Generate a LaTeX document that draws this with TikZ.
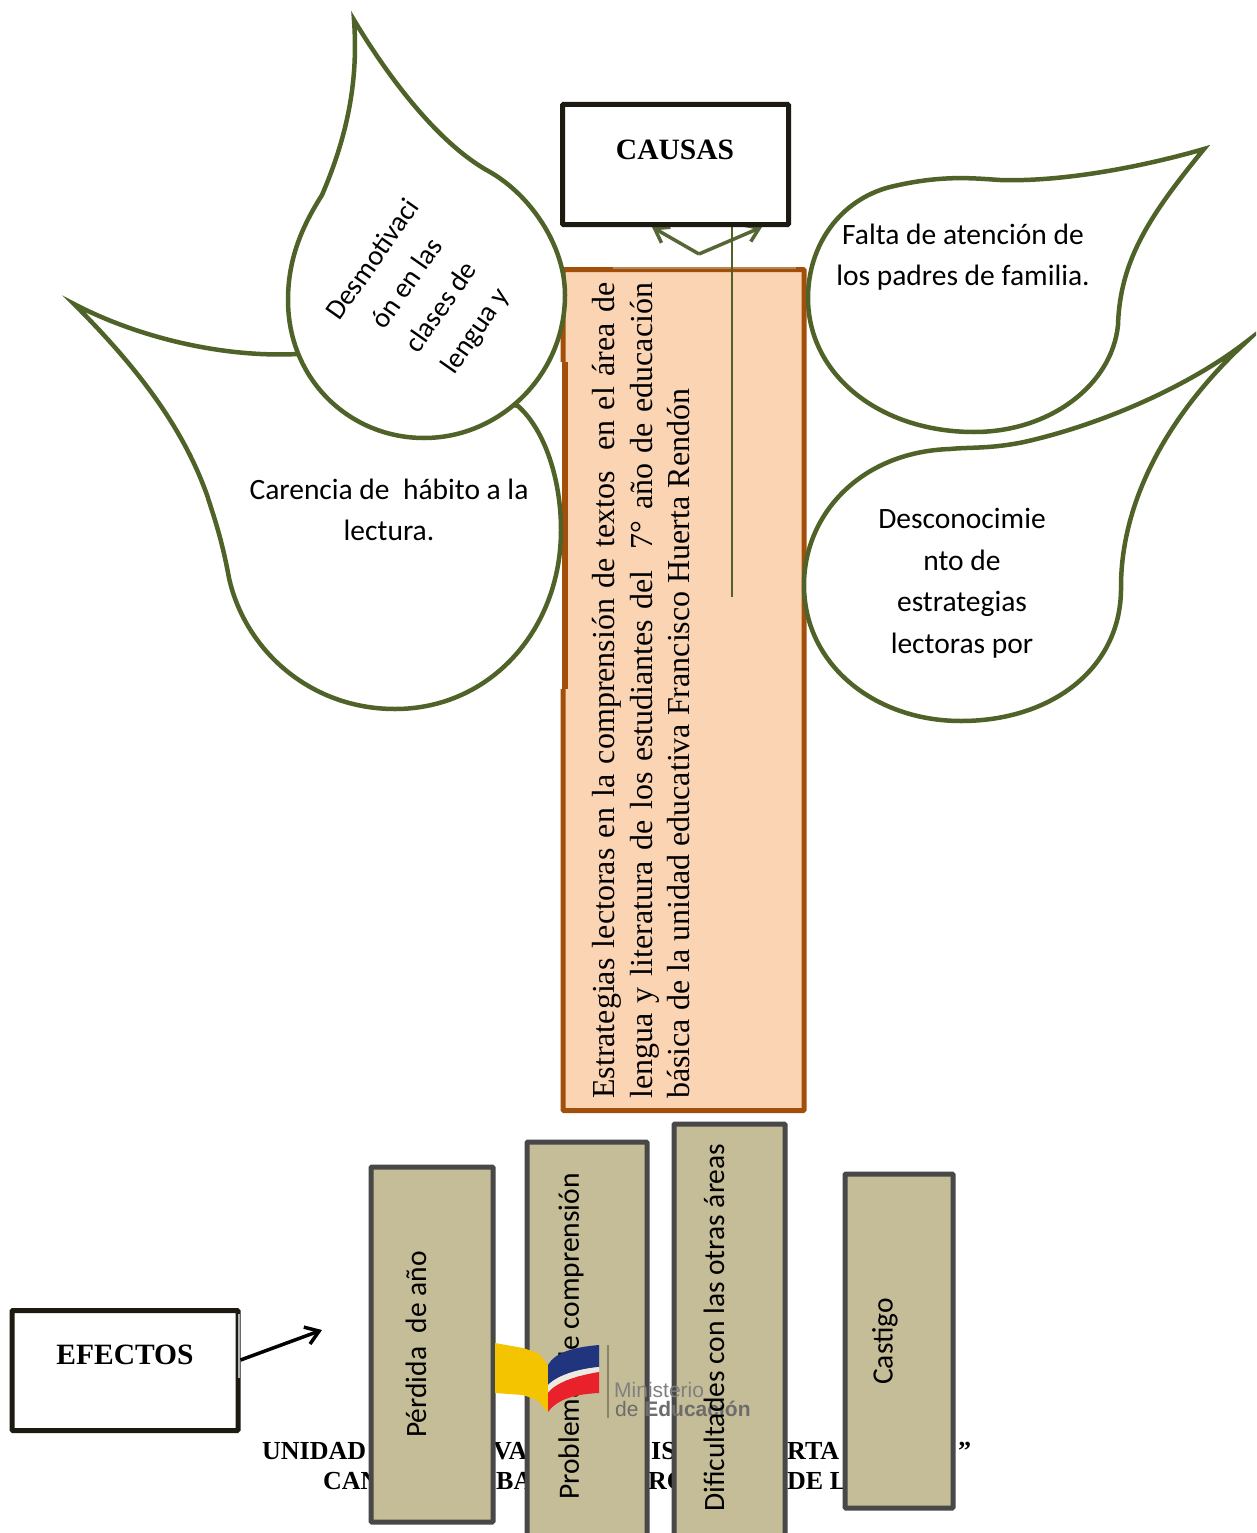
\documentclass[tikz,border=0pt]{standalone}
\usepackage{fontspec}
\setmainfont{Liberation Serif}
\newfontfamily\calfont{Carlito}
\newfontfamily\arlfont{Liberation Sans}
\usetikzlibrary{arrows.meta}
\definecolor{leaf}{HTML}{4F6228}
\definecolor{rust}{HTML}{A34F0C}
\definecolor{peach}{HTML}{FBD4B4}
\definecolor{boxtan}{HTML}{C4BD97}
\definecolor{slate}{HTML}{484848}
\definecolor{ink}{HTML}{1D1B11}
\definecolor{flagy}{HTML}{F5C400}
\definecolor{flagb}{HTML}{21357F}
\definecolor{flagr}{HTML}{E8212B}
\tikzset{
  x=1pt,y=-1pt,
  drop/.style={draw=leaf,line width=4.5pt,fill=white,line join=miter,miter limit=30},
  blackbox/.style={draw=ink,line width=5pt,fill=white,rounded corners=1pt,inner sep=0pt,anchor=center},
  tanbox/.style={draw=slate,line width=5pt,fill=boxtan,rounded corners=1pt,inner sep=0pt,anchor=center},
  caltext/.style={font=\calfont\fontsize{29.5}{41.5}\selectfont,align=center,inner sep=0pt,text=black},
  vertlabel/.style={font=\calfont\fontsize{29.5}{32}\selectfont,rotate=90,inner sep=0pt,anchor=west,text=black},
  headtext/.style={font=\bfseries\fontsize{29.5}{32}\selectfont,inner sep=0pt,text=black},
  under/.style={font=\bfseries\fontsize{26}{30}\selectfont,inner sep=0pt,anchor=base west,text=black},
  barb/.style={-{Straight Barb[length=13pt,width=18pt,line width=3.5pt]}},
}
\begin{document}
\begin{tikzpicture}
\clip (0,0) rectangle (1256,1533);
\fill[white] (0,0) rectangle (1256,1533);

% text lines partly hidden by the boxes
\node[under] (u1) at (262,1459) {UNIDAD};
\node[under] (u2) at (493,1459) {VA};
\node[under] (u3) at (651,1459) {IS};
\node[under] (u4) at (787,1459) {RTA};
\node[under] (u5) at (958,1459) {”};
\node[under] (v1) at (323,1489) {CAN};
\node[under] (v2) at (496,1489) {BAI};
\node[under] (v3) at (648,1489) {RO};
\node[under] (v4) at (787,1489) {DE L};

% central box
\node[draw=rust,line width=5pt,fill=peach,inner sep=0pt,minimum width=241pt,minimum height=841pt,rounded corners=1pt] (main) at (683.5,690) {};
\draw[white,line width=3pt] (560.5,362) -- (560.5,689);
\draw[rust,line width=5pt] (565,362) -- (565,689);
\draw[boxtan!75!rust,line width=2pt,opacity=.7] (613,267.5) -- (796,267.5);
\node[font=\fontsize{32}{37.7}\selectfont,rotate=90,anchor=north west,inner sep=0pt,align=left] (maintext) at (592,1099)
 {\makebox[816pt][s]{Estrategias lectoras en la comprensión de textos \ en el área de}\\
  \makebox[816pt][s]{lengua y literatura de los estudiantes del \ 7° año de educación}\\
  básica de la unidad educativa Francisco Huerta Rendón};

% arrows under CAUSAS
\coordinate (vee) at (699,254);
\coordinate (vl) at (652,227);
\coordinate (vr) at (762,227);
\draw[leaf!85!gray,line width=3.5pt,barb] (vee) -- (vl);
\draw[leaf!85!gray,line width=3.5pt,barb] (vee) -- (vr);
\coordinate (stemb) at (732,597);
\draw[leaf,line width=1.2pt] (stemb) -- (732,225);

\node[blackbox,minimum width=226pt,minimum height=120pt] (causas) at (675.5,164.5) {};
\node[headtext] (causast) at (675,150) {CAUSAS};

% drops
\draw[drop] (74,304) .. controls (135,336) and (220,358) .. (298,354) -- (518,406)
  .. controls (545,430) and (561,480) .. (561,530)
  .. controls (561,630) and (490,709) .. (395,709)
  .. controls (310,709) and (245,650) .. (229,578)
  .. controls (222,540) and (215,520) .. (207,495)
  .. controls (182,425) and (135,365) .. (74,304) -- cycle;
\draw[drop] (354,20) .. controls (358,75) and (350,130) .. (322,195)
  .. controls (305,222) and (288,255) .. (288,300)
  .. controls (288,380) and (350,438) .. (424,438)
  .. controls (500,438) and (565,375) .. (565,295)
  .. controls (565,245) and (530,195) .. (490,172)
  .. controls (440,145) and (390,80) .. (354,20) -- cycle;
\draw[drop] (1204,149) .. controls (1138,168) and (1060,182) .. (1000,180)
  .. controls (970,178) and (940,175) .. (890,187)
  .. controls (840,200) and (808,245) .. (808,298)
  .. controls (808,375) and (880,432) .. (974,432)
  .. controls (1050,432) and (1112,385) .. (1118,325)
  .. controls (1120,260) and (1150,215) .. (1204,149) -- cycle;
\draw[drop] (1246,342) .. controls (1188,387) and (1100,425) .. (1024,442)
  .. controls (990,449) and (970,447) .. (950,449)
  .. controls (860,452) and (804,515) .. (804,585)
  .. controls (804,665) and (875,721) .. (961,721)
  .. controls (1050,721) and (1120,670) .. (1121,590)
  .. controls (1120,510) and (1160,422) .. (1246,342) -- cycle;

\node[caltext] (t1) at (389,510) {Carencia de \ hábito a la\\lectura.};
\node[caltext,rotate=55,font=\calfont\fontsize{28.3}{41.5}\selectfont] (t2) at (425,296) {Desmotivaci\\ón en las\\clases de\\lengua y};
\node[caltext] (t3) at (963,257) {Falta de atención de\\los padres de familia.};
\node[caltext] (t4) at (962,583) {Desconocimie\\nto de\\estrategias\\lectoras por};

% lower boxes
\node[tanbox,minimum width=122pt,minimum height=355pt] (b1) at (432,1344.5) {};
\node[tanbox,minimum width=120pt,minimum height=410pt] (b2) at (587,1347) {};
\node[tanbox,minimum width=111pt,minimum height=430pt] (b3) at (729.5,1339) {};
\node[tanbox,minimum width=108pt,minimum height=334pt] (b4) at (899,1341) {};

\node[vertlabel] (l1) at (416,1438) {Pérdida \ de año};
\node[vertlabel] (l2) at (571,1500) {Problemas de comprensión};
\node[vertlabel] (l4) at (885,1385) {Castigo};

% emblem
\fill[flagy] (495,1343) -- (523,1348) -- (538,1353) -- (548,1365) -- (548,1412) -- (537,1400) -- (523,1395) -- (495,1393) -- cycle;
\fill[flagb] (548,1365) .. controls (555,1352) and (575,1347) .. (599,1345) -- (599,1367) .. controls (578,1369) and (558,1375) .. (548,1385) -- cycle;
\fill[boxtan!30!white] (548,1385) .. controls (558,1375) and (578,1369) .. (599,1367) -- (599,1372) .. controls (575,1376) and (555,1383) .. (548,1393) -- cycle;
\fill[flagr] (548,1393) .. controls (555,1383) and (575,1376) .. (599,1372) -- (599,1393) .. controls (578,1394) and (558,1398) .. (548,1412) -- cycle;
\draw[boxtan!70!black,line width=1.5pt] (608,1345) -- (608,1418);
\node[font=\arlfont\fontsize{21}{24}\selectfont,text=gray,inner sep=0pt,anchor=base west] (m1) at (614,1397) {Ministerio};
\node[font=\arlfont\fontsize{21}{24}\selectfont,text=gray!85!black,inner sep=0pt,anchor=base west] (m2) at (615,1416) {de \textbf{Educación}};

\node[vertlabel] (l3) at (714,1512) {Dificultades con las otras áreas};

% EFECTOS
\node[blackbox,minimum width=226pt,minimum height=120pt] (efectos) at (125,1370.5) {};
\draw[gray!60,line width=2pt] (238.5,1314) -- (238.5,1378);
\node[headtext] (efectost) at (125,1355) {EFECTOS};
\coordinate (efa) at (322,1330);
\draw[black,line width=3.5pt,barb] (efectos.east |- 0,1360) -- (efa);
\end{tikzpicture}
\end{document}
